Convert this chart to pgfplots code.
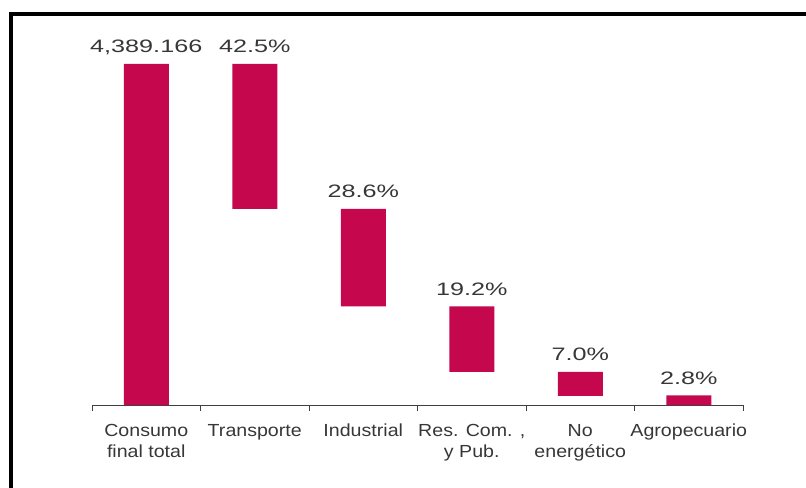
\documentclass[border=0pt]{standalone}
\usepackage{pgfplots}
\pgfplotsset{compat=1.18}
\usepackage{pgfplotstable}
\usepackage{fontspec}
\setmainfont{Liberation Sans}
\newfontfamily\numfont[FakeStretch=1.4]{Liberation Sans}
\newfontfamily\labfont[FakeStretch=1.12]{Liberation Sans}
\definecolor{barred}{RGB}{197,7,77}
\definecolor{txt}{RGB}{55,55,55}
\pgfplotstableread{
x base h z label
0.5 0 100 0.01 {4,389.166}
1.5 57.5 42.5 0.01 {42.5\%}
2.5 28.9 28.6 0.01 {28.6\%}
3.5 9.7 19.2 0.01 {19.2\%}
4.5 2.7 7.0 0.01 {7.0\%}
5.5 0 2.8 0.01 {2.8\%}
}\data
\begin{document}
\begin{tikzpicture}
\useasboundingbox (-92bp,-83bp) rectangle (714bp,405bp);
\begin{axis}[
  at={(0,0)}, anchor=south west,
  scale only axis, width=651bp, height=341bp,
  xmin=0, xmax=6, ymin=0, ymax=100,
  enlargelimits=false,
  axis y line=none, axis x line*=bottom,
  x axis line style={-, draw=black!75, line width=1bp},
  ybar stacked, bar width=45bp,
  clip=false,
  xtick={0.5,1.5,2.5,3.5,4.5,5.5},
  xticklabels={{Consumo\\final total},Transporte,Industrial,{Res. Com. ,\\y Pub.},{No\\energético},Agropecuario},
  major tick length=0pt,
  minor xtick={0,1,2,3,4,5,6},
  minor tick length=6bp,
  tick align=outside,
  minor tick style={draw=black!75, line width=1bp},
  xticklabel style={align=center, anchor=north, inner sep=0pt, yshift=-19bp,
    font=\labfont\fontsize{17.5bp}{21.5bp}\selectfont, text=txt},
]
\addplot[fill=none, draw=none] table[x=x, y=base]{\data};
\addplot[fill=barred, draw=none] table[x=x, y=h]{\data};
\addplot[fill=none, draw=none,
  nodes near coords, point meta=explicit symbolic,
  every node near coord/.append style={font=\numfont\fontsize{18bp}{21bp}\selectfont, text=txt, anchor=base, inner sep=0pt, yshift=11bp}]
  table[x=x, y=z, meta=label]{\data};
\end{axis}
\draw[line width=4bp] (-80.5bp,-83bp) -- (-80.5bp,391bp) -- (714bp,391bp);
\end{tikzpicture}
\end{document}
